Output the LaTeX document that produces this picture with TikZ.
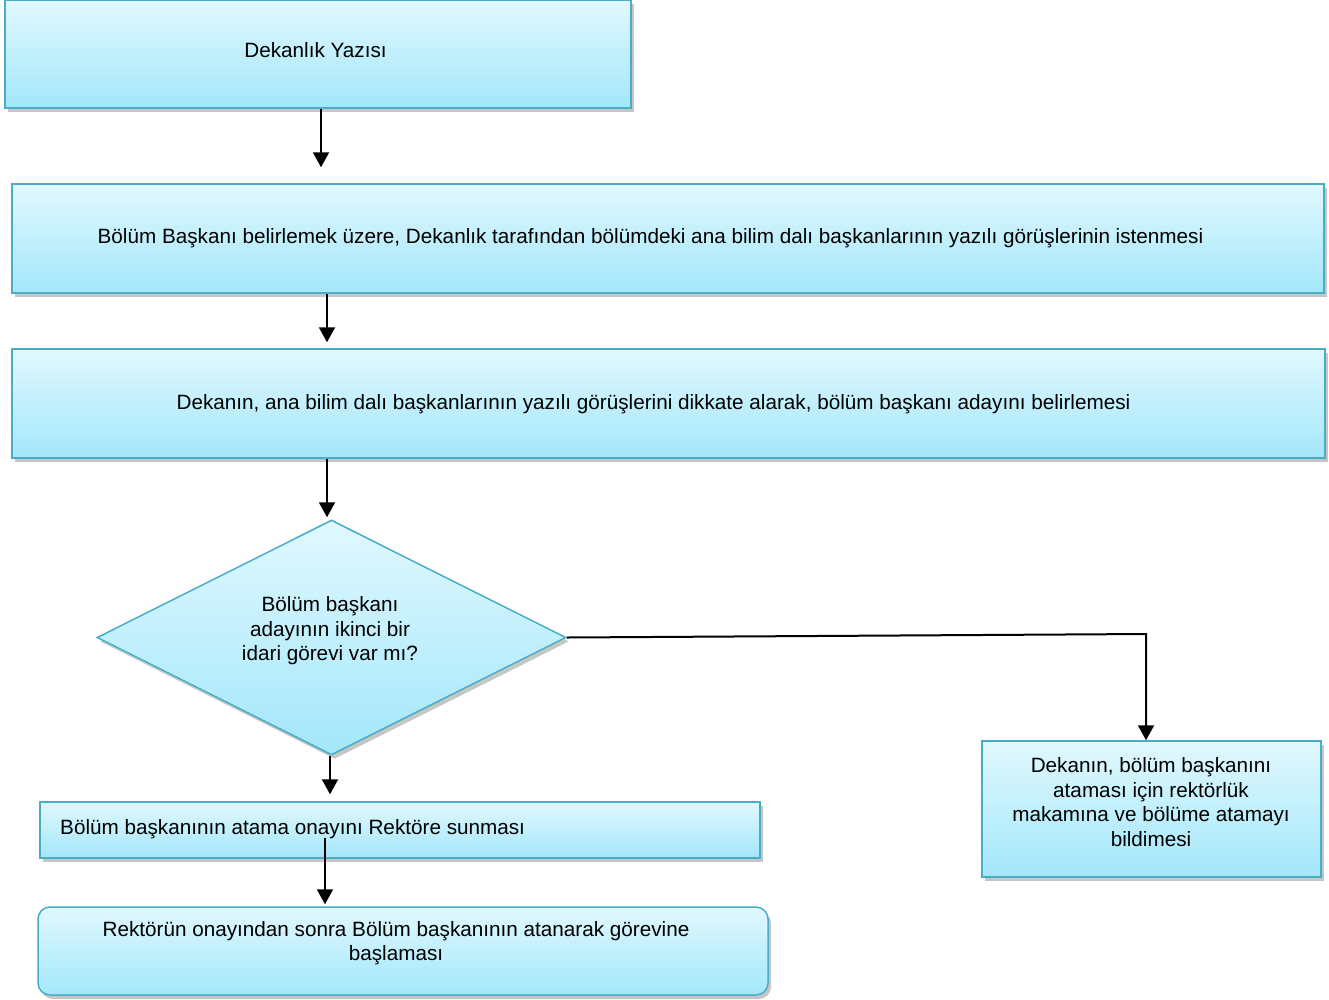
\documentclass[tikz,border=0pt]{standalone}
\usepackage{fontspec}
\setmainfont{Liberation Sans}
\usetikzlibrary{arrows.meta,shapes.geometric,shadows}
\definecolor{boxtop}{HTML}{E1F8FE}
\definecolor{boxbot}{HTML}{A3E7FB}
\definecolor{boxline}{HTML}{4BACC6}

\begin{document}
\begin{tikzpicture}[x=1pt, y=-1pt,
		box/.style={draw=boxline, line width=1.5pt, top color=boxtop, bottom color=boxbot, inner sep=0pt,
			drop shadow={shadow xshift=3pt, shadow yshift=-4pt, opacity=0.45}},
		txt/.style={font=\fontsize{20.7}{24.6}\selectfont, align=center, inner sep=0pt},
		arr/.style={-{Triangle[width=16pt,length=15pt]}, line width=2pt}]
		\useasboundingbox (0,0) rectangle (1329,999);
		% boxes
		\node[box, minimum width=626pt, minimum height=108pt] (yazi) at (318,54) {};
		\node[box, minimum width=1312pt, minimum height=109pt] (gorus) at (668,238.5) {};
		\node[box, minimum width=1313pt, minimum height=109pt] (aday) at (668.5,403.5) {};
		\node[box, diamond, aspect=2, minimum width=469pt, minimum height=235pt] (soru) at (331.5,637.5) {};
		\node[box, minimum width=720pt, minimum height=56pt] (onay) at (400,830) {};
		\node[box, rounded corners=12pt, minimum width=730pt, minimum height=88pt] (basla) at (403,951) {};
		\node[box, minimum width=339pt, minimum height=136pt] (bildir) at (1151.5,809) {};
		% texts
		\node[txt] (t-yazi) at (315.5,50.5) {Dekanlık Yazısı};
		\node[txt] (t-gorus) at (650.5,238) {Bölüm Başkanı belirlemek üzere, Dekanlık tarafından bölümdeki ana bilim dalı başkanlarının yazılı görüşlerinin istenmesi};
		\node[txt] (t-aday) at (653.5,404) {Dekanın, ana bilim dalı başkanlarının yazılı görüşlerini dikkate alarak, bölüm başkanı adayını belirlemesi};
		\node[txt] (t-soru) at (330,631) {Bölüm başkanı\\adayının ikinci bir\\idari görevi var mı?};
		\node[txt, anchor=west] (t-onay) at (60,829) {Bölüm başkanının atama onayını Rektöre sunması};
		\node[txt] (t-basla) at (396,943) {Rektörün onayından sonra Bölüm başkanının atanarak görevine\\başlaması};
		\node[txt] (t-bildir) at (1151,802) {Dekanın, bölüm başkanını\\ataması için rektörlük\\makamına ve bölüme atamayı\\bildimesi};
		% arrows
		\coordinate (k) at (325,838);
		\draw[arr, shorten >=16pt] (321,0 |- yazi.south) -- (321,0 |- gorus.north);
		\draw[arr, shorten >=6pt] (327,0 |- gorus.south) -- (327,0 |- aday.north);
		\draw[arr, shorten >=2pt] (327,0 |- aday.south) -- (327,0 |- soru.north);
		\draw[arr] (soru.east) -- (1146,634) -- (1146,0 |- bildir.north);
		\draw[arr, shorten >=7pt] (330,0 |- soru.south) -- (330,0 |- onay.north);
		\draw[arr, shorten >=2pt] (k) -- (325,0 |- basla.north);
	\end{tikzpicture}
\end{document}
